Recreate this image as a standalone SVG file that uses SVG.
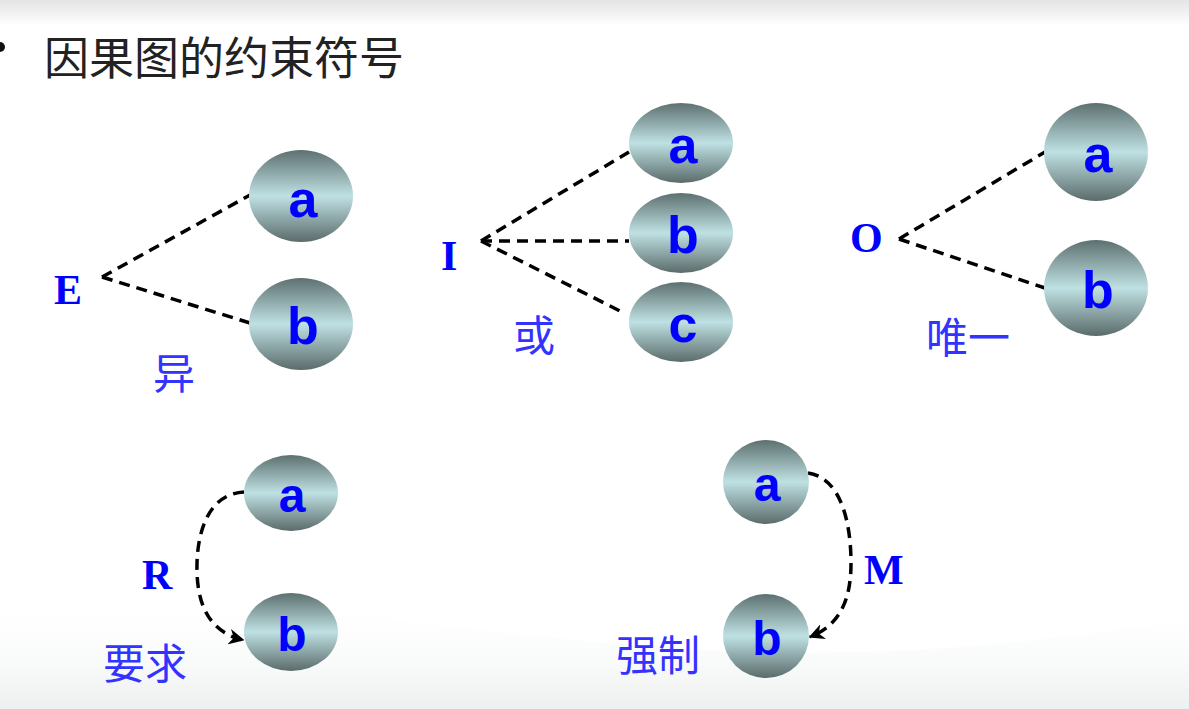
<svg xmlns="http://www.w3.org/2000/svg" width="1189" height="709" viewBox="0 0 1189 709">
<defs>
<linearGradient id="nodeFill" x1="0" y1="0" x2="0" y2="1">
<stop offset="0" stop-color="#5d7070"/>
<stop offset="0.5" stop-color="#bfe1e3"/>
<stop offset="1" stop-color="#5b6b6b"/>
</linearGradient>
<linearGradient id="topBand" x1="0" y1="0" x2="0" y2="1">
<stop offset="0" stop-color="#e4e4e4"/>
<stop offset="1" stop-color="#ffffff"/>
</linearGradient>
<linearGradient id="bottomWave" x1="0" y1="0" x2="0" y2="1">
<stop offset="0" stop-color="#ffffff" stop-opacity="0"/>
<stop offset="1" stop-color="#edf0f0"/>
</linearGradient>
<marker id="arrow" viewBox="0 0 10 10" refX="9" refY="5" markerWidth="4.5" markerHeight="4.5" orient="auto">
<path d="M0,0 L10,5 L0,10 L3,5 Z" fill="#000"/>
</marker>
</defs>
<style>
.node ellipse{fill:url(#nodeFill);}
.nl{font-family:"Liberation Sans",Arial,sans-serif;font-weight:bold;fill:#0000ff;text-anchor:middle;}
.sym{font-family:"Liberation Serif","Times New Roman",serif;font-weight:bold;fill:#0000ff;font-size:42px;}
.cn{font-family:"Liberation Serif","Noto Sans CJK SC",serif;fill:#3333ff;font-size:42px;}
.title{font-family:"Liberation Sans","Noto Sans CJK SC",sans-serif;fill:#222;font-size:45px;}
.dash{fill:none;stroke:#000;stroke-width:3.5;stroke-dasharray:11 7;}
</style>
<rect x="0" y="0" width="1189" height="709" fill="#ffffff"/>
<rect x="0" y="0" width="1189" height="26" fill="url(#topBand)"/>
<path d="M0,600 C200,580 400,630 700,650 C900,660 1050,640 1189,620 L1189,709 L0,709 Z" fill="url(#bottomWave)"/>

<circle cx="0" cy="47" r="5" fill="#111"/>
<text class="title" x="44" y="75">因果图的约束符号</text>

<g id="connectors">
<line class="dash" x1="102" y1="277" x2="250" y2="195"/>
<line class="dash" x1="102" y1="277" x2="250" y2="323"/>
<line class="dash" x1="481" y1="241" x2="629" y2="152"/>
<line class="dash" x1="481" y1="241" x2="629" y2="241"/>
<line class="dash" x1="481" y1="241" x2="622" y2="312"/>
<line class="dash" x1="899" y1="239" x2="1045" y2="152"/>
<line class="dash" x1="899" y1="239" x2="1045" y2="288"/>
<path class="dash" d="M244,492 C207,494 196,535 197,572 C198,610 213,633 243,640" marker-end="url(#arrow)"/>
<path class="dash" d="M808,473 C842,478 851,525 851,563 C851,600 840,625 810,637" marker-end="url(#arrow)"/>
</g>

<g id="E">
<text class="sym" x="54" y="304">E</text>
<text class="cn" x="153" y="389">异</text>
</g>
<g id="E-a" class="node"><ellipse cx="301" cy="196" rx="52" ry="46"/><text class="nl" x="303" y="217" font-size="52">a</text></g>
<g id="E-b" class="node"><ellipse cx="301" cy="324" rx="52" ry="46"/><text class="nl" x="303" y="344" font-size="52">b</text></g>

<g id="I">
<text class="sym" x="441" y="270">I</text>
<text class="cn" x="513" y="351">或</text>
</g>
<g id="I-a" class="node"><ellipse cx="681" cy="143" rx="52" ry="40"/><text class="nl" x="683" y="163" font-size="52">a</text></g>
<g id="I-b" class="node"><ellipse cx="681" cy="233" rx="52" ry="40"/><text class="nl" x="683" y="253" font-size="52">b</text></g>
<g id="I-c" class="node"><ellipse cx="681" cy="322" rx="52" ry="40"/><text class="nl" x="683" y="342" font-size="52">c</text></g>

<g id="O">
<text class="sym" x="850" y="252">O</text>
<text class="cn" x="926" y="353">唯一</text>
</g>
<g id="O-a" class="node"><ellipse cx="1096" cy="152" rx="52" ry="49"/><text class="nl" x="1098" y="172" font-size="52">a</text></g>
<g id="O-b" class="node"><ellipse cx="1096" cy="288" rx="52" ry="48"/><text class="nl" x="1098" y="308" font-size="52">b</text></g>

<g id="R">
<text class="sym" x="142" y="589">R</text>
<text class="cn" x="103" y="679">要求</text>
</g>
<g id="R-a" class="node"><ellipse cx="291" cy="493" rx="47" ry="38"/><text class="nl" x="292" y="512" font-size="48">a</text></g>
<g id="R-b" class="node"><ellipse cx="291" cy="632" rx="47" ry="39"/><text class="nl" x="292" y="651" font-size="48">b</text></g>

<g id="M">
<text class="sym" x="864" y="584">M</text>
<text class="cn" x="616" y="671">强制</text>
</g>
<g id="M-a" class="node"><ellipse cx="766" cy="482" rx="43" ry="42"/><text class="nl" x="767" y="501" font-size="48">a</text></g>
<g id="M-b" class="node"><ellipse cx="766" cy="636" rx="43" ry="42"/><text class="nl" x="767" y="655" font-size="48">b</text></g>
</svg>
